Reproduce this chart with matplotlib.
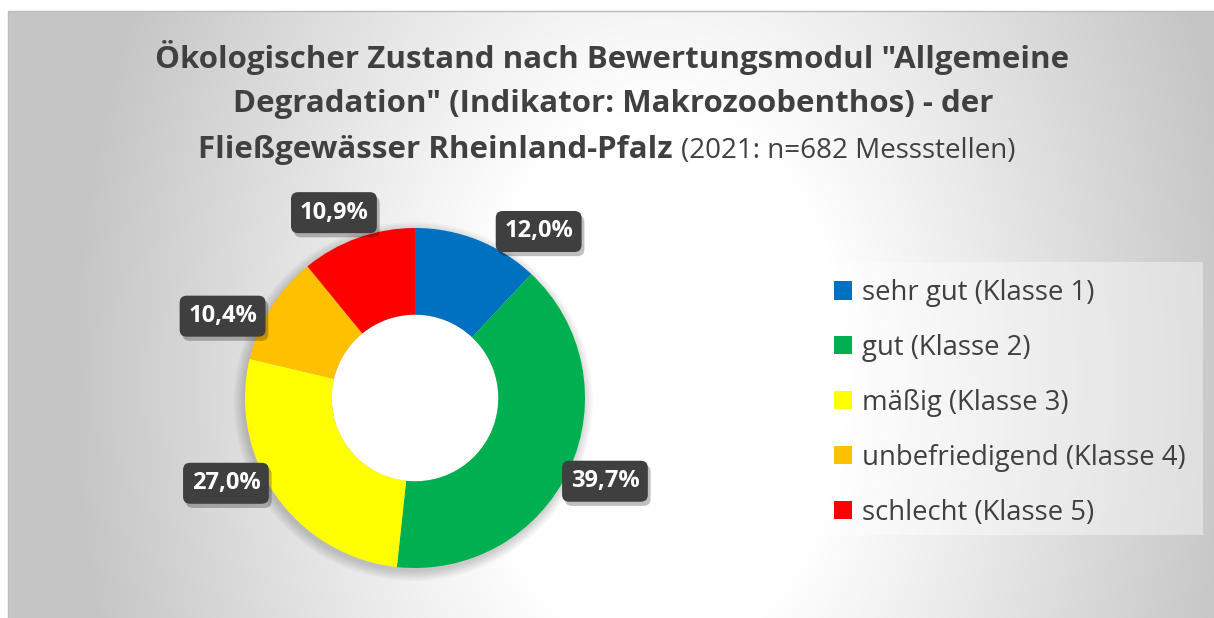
import numpy as np
import matplotlib
matplotlib.use('Agg')
import matplotlib.pyplot as plt
import matplotlib.patheffects as pe
from matplotlib.patches import Rectangle, Circle

# ── data ──────────────────────────────────────────────────────────────────────
classes = ['sehr gut (Klasse 1)', 'gut (Klasse 2)', 'mäßig (Klasse 3)',
           'unbefriedigend (Klasse 4)', 'schlecht (Klasse 5)']
shares = [12.0, 39.7, 27.0, 10.4, 10.9]
colors = ['#0070C0', '#00B050', '#FFFF00', '#FFC000', '#FF0000']

title_1 = 'Ökologischer Zustand nach Bewertungsmodul "Allgemeine'
title_2 = 'Degradation" (Indikator: Makrozoobenthos) - der'
title_3a = 'Fließgewässer Rheinland-Pfalz'
title_3b = '(2021: n=682 Messstellen)'

# label placement tweaks (degrees off the wedge middle, radius factor)
label_nudge = [-15, 1, -11, 9, 4]
label_rad = [1.22, 1.22, 1.22, 1.23, 1.19]

plt.rcParams['font.family'] = ['Open Sans', 'DejaVu Sans']
W, H = 1214, 618
TXT = '#404040'

fig = plt.figure(figsize=(W / 100, H / 100), dpi=100)
fig.patch.set_facecolor('white')

# ── background: grey gradient, white in the middle ───────────────────────────
ax_bg = fig.add_axes([0, 0, 1, 1])
ax_bg.set_xlim(0, W)
ax_bg.set_ylim(H, 0)
ax_bg.axis('off')

x0, y0 = 8, 11
xx, yy = np.meshgrid(np.arange(x0, W), np.arange(y0, H))
d = np.sqrt(((xx - 660) / 620) ** 2 + ((yy - 380) / 900) ** 2)
v = 255 - 58 * np.clip((d - 0.3) / 0.65, 0, 1)
img = np.dstack([v, v, v]).astype(np.uint8)
ax_bg.imshow(img, extent=(x0, W, H, y0), interpolation='bilinear', zorder=0)
ax_bg.add_patch(Rectangle((x0, y0), W - x0 + 5, H - y0 + 5, fill=False,
                          edgecolor='#bcbcbc', linewidth=1, zorder=1))

# legend panel
ax_bg.add_patch(Rectangle((822, 262), 381, 273, facecolor='white',
                          alpha=0.4, edgecolor='none', zorder=1))

# ── title ─────────────────────────────────────────────────────────────────────
ax_bg.text(612, 68, title_1, ha='center', va='baseline', fontsize=22.5,
           fontweight='bold', color=TXT)
ax_bg.text(613, 112, title_2, ha='center', va='baseline', fontsize=22.5,
           fontweight='bold', color=TXT)
ax_bg.text(673, 158, title_3a, ha='right', va='baseline', fontsize=22.5,
           fontweight='bold', color=TXT)
ax_bg.text(681, 158, title_3b, ha='left', va='baseline', fontsize=20,
           color=TXT)

# ── donut ─────────────────────────────────────────────────────────────────────
R = 170                     # outer radius in px
cx, cy = 415, H - 398       # centre in px (from bottom)
S = 500                     # axes size in px
ax = fig.add_axes([(cx - S / 2) / W, (cy - S / 2) / H, S / W, S / H])
ax.axis('off')

# soft shadow under the ring
for i in range(8):
    ax.add_patch(Circle((-0.01, -0.02), 1.0 + i * 0.008, facecolor='black',
                        alpha=0.025, edgecolor='none', zorder=0))

wedges, _ = ax.pie(shares, colors=colors, startangle=90, counterclock=False,
                   radius=1, wedgeprops=dict(width=0.51, edgecolor='none'))
for w in wedges:
    w.set_zorder(2)
ax.add_patch(Circle((0, 0), 0.49, facecolor='white', edgecolor='none',
                    zorder=1.5))

lim = S / 2 / R
ax.set_xlim(-lim, lim)
ax.set_ylim(-lim, lim)

for w, val, nudge, rad in zip(wedges, shares, label_nudge, label_rad):
    ang = np.deg2rad((w.theta1 + w.theta2) / 2 + nudge)
    t = ax.text(rad * np.cos(ang), rad * np.sin(ang),
                f'{val:.1f}%'.replace('.', ','),
                ha='center', va='center', fontsize=17, fontweight='bold',
                color='white', zorder=5,
                bbox=dict(boxstyle='round,pad=0.36,rounding_size=0.3',
                          facecolor='#3f3f3f', edgecolor='none'))
    t.get_bbox_patch().set_path_effects(
        [pe.SimplePatchShadow(offset=(2, -3), shadow_rgbFace='black',
                              alpha=0.25), pe.Normal()])

# ── legend ────────────────────────────────────────────────────────────────────
fig.legend(wedges, classes, loc='upper left',
           bbox_to_anchor=(834 / W, 1 - 279 / H), frameon=False,
           fontsize=19.8, labelcolor=TXT, borderpad=0, borderaxespad=0,
           handlelength=0.65, handleheight=0.65, handletextpad=0.35,
           labelspacing=0.98)

fig.savefig('out.png', dpi=100)
